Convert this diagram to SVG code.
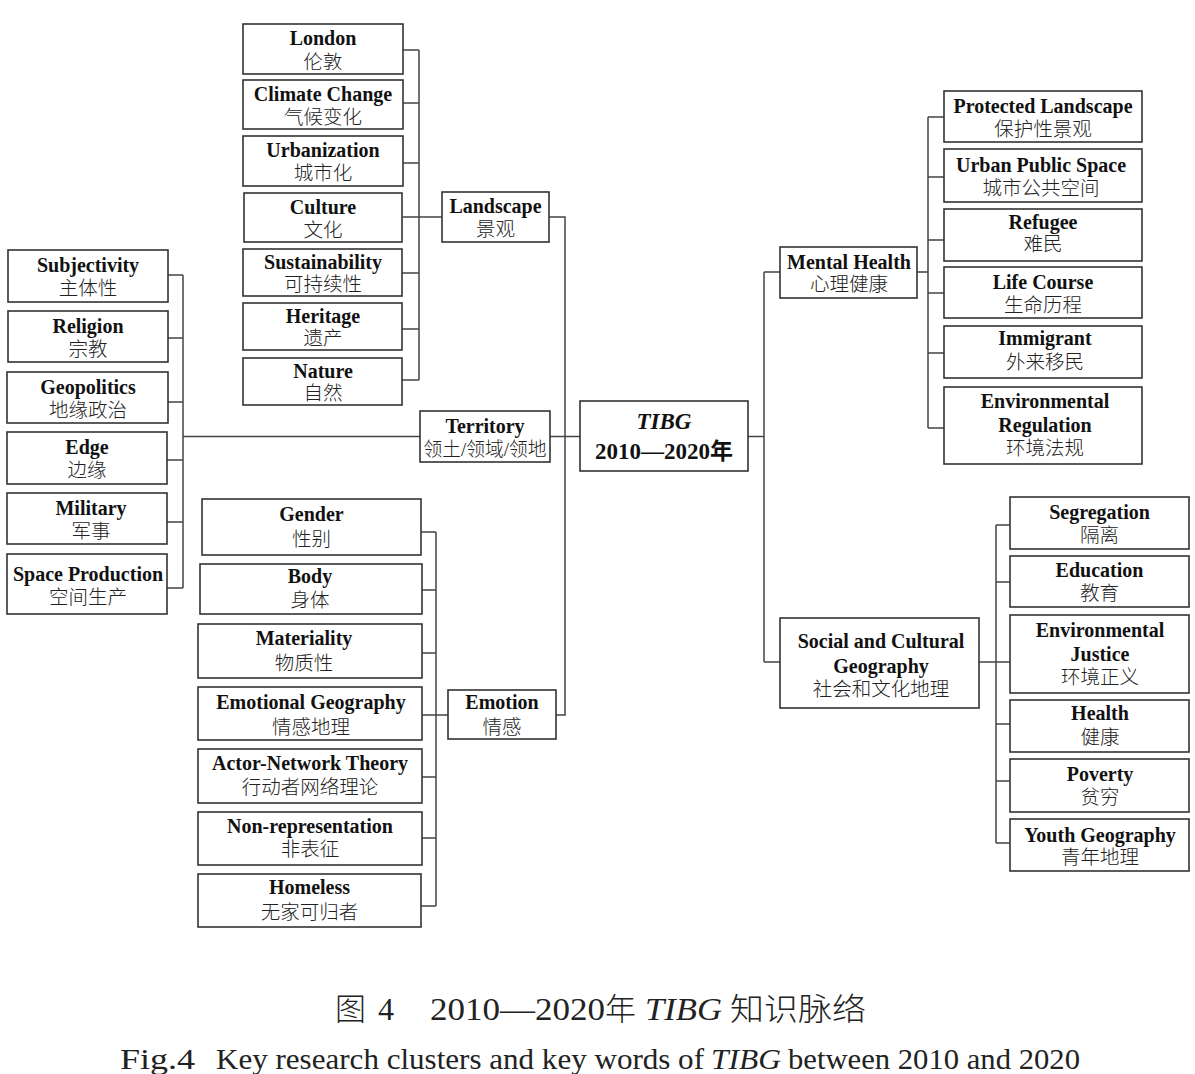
<svg xmlns="http://www.w3.org/2000/svg" width="1195" height="1074" viewBox="0 0 1195 1074">
<style>
.bg{fill:#ffffff}
.box{fill:#ffffff;stroke:#333333;stroke-width:1.6}
.en{font-family:"Liberation Serif","Times New Roman",serif;font-weight:bold;font-size:20px;fill:#111111;text-anchor:middle}
.zh{font-family:"Liberation Serif","Noto Sans CJK SC",serif;font-size:19.5px;font-weight:300;fill:#222222;text-anchor:middle}
.conn{fill:none;stroke:#444444;stroke-width:1.5}
.cap{font-family:"Liberation Serif","Noto Sans CJK SC",serif;fill:#222222}
</style>
<rect class="bg" x="0" y="0" width="1195" height="1074"/>
<g id="connectors">
<path class="conn" d="M403,50H419M403,103H419M403,163H419M403,217H442M402,273H419M402,329H419M402,380H419M419,50V380"/>
<path class="conn" d="M549,217H565V715H556"/>
<path class="conn" d="M168,275H183M168,338H183M168,402H183M167,460H183M167,522H183M167,588H183M183,275V588M183,436.5H420"/>
<path class="conn" d="M550,436.5H580M748,436.5H764M764,272V662M764,272H780M764,662H780"/>
<path class="conn" d="M421,532H436M422,590H436M422,653H436M422,715H448M422,777H436M422,838H436M421,906H436M436,532V906"/>
<path class="conn" d="M917,272H928M928,117V428M928,117H944M928,177H944M928,240H944M928,293H944M928,353H944M928,428H944"/>
<path class="conn" d="M979,662H996M996,525V843M996,525H1010M996,582H1010M996,662H1010M996,724H1010M996,781H1010M996,843H1010"/>
</g>
<g id="london"><rect class="box" x="243" y="24" width="160" height="50"/><text class="en" x="323" y="45">London</text><text class="zh" x="323" y="68.5">伦敦</text></g>
<g id="climate-change"><rect class="box" x="243" y="80" width="160" height="49"/><text class="en" x="323" y="100.5">Climate Change</text><text class="zh" x="323" y="123.5">气候变化</text></g>
<g id="urbanization"><rect class="box" x="243" y="136" width="160" height="50"/><text class="en" x="323" y="157">Urbanization</text><text class="zh" x="323" y="180">城市化</text></g>
<g id="culture"><rect class="box" x="244" y="193" width="158" height="49"/><text class="en" x="323" y="213.5">Culture</text><text class="zh" x="323" y="236.5">文化</text></g>
<g id="sustainability"><rect class="box" x="243" y="249" width="159" height="47"/><text class="en" x="323" y="268.5">Sustainability</text><text class="zh" x="323" y="290.5">可持续性</text></g>
<g id="heritage"><rect class="box" x="243" y="303" width="159" height="47"/><text class="en" x="323" y="322.5">Heritage</text><text class="zh" x="323" y="344.5">遗产</text></g>
<g id="nature"><rect class="box" x="243" y="358" width="159" height="47"/><text class="en" x="323" y="377.5">Nature</text><text class="zh" x="323" y="399.5">自然</text></g>
<g id="landscape"><rect class="box" x="442" y="192" width="107" height="50"/><text class="en" x="495.5" y="213">Landscape</text><text class="zh" x="495.5" y="236">景观</text></g>
<g id="subjectivity"><rect class="box" x="8" y="250" width="160" height="52"/><text class="en" x="88" y="272">Subjectivity</text><text class="zh" x="88" y="295">主体性</text></g>
<g id="religion"><rect class="box" x="8" y="311" width="160" height="51"/><text class="en" x="88" y="332.5">Religion</text><text class="zh" x="88" y="355.5">宗教</text></g>
<g id="geopolitics"><rect class="box" x="7" y="372" width="161" height="51"/><text class="en" x="88" y="393.5">Geopolitics</text><text class="zh" x="88" y="416.5">地缘政治</text></g>
<g id="edge"><rect class="box" x="7" y="432" width="160" height="52"/><text class="en" x="87" y="454">Edge</text><text class="zh" x="87" y="477">边缘</text></g>
<g id="military"><rect class="box" x="7" y="493" width="160" height="51"/><text class="en" x="91" y="514.5">Military</text><text class="zh" x="91" y="537.5">军事</text></g>
<g id="space-production"><rect class="box" x="7" y="554" width="160" height="60"/><text class="en" x="88" y="580.5">Space Production</text><text class="zh" x="88" y="603.5">空间生产</text></g>
<g id="territory"><rect class="box" x="420" y="411" width="130" height="51"/><text class="en" x="485" y="432.5">Territory</text><text class="zh" x="485" y="455.5" textLength="123" lengthAdjust="spacingAndGlyphs">领土/领域/领地</text></g>
<g id="gender"><rect class="box" x="202" y="499" width="219" height="56"/><text class="en" x="311.5" y="521">Gender</text><text class="zh" x="311.5" y="546">性别</text></g>
<g id="body"><rect class="box" x="200" y="564" width="222" height="50"/><text class="en" x="310" y="583">Body</text><text class="zh" x="310" y="607">身体</text></g>
<g id="materiality"><rect class="box" x="198" y="624" width="224" height="54"/><text class="en" x="304" y="645">Materiality</text><text class="zh" x="304" y="669.5">物质性</text></g>
<g id="emotional-geography"><rect class="box" x="198" y="687" width="224" height="53"/><text class="en" x="311" y="708.5">Emotional Geography</text><text class="zh" x="311" y="733.5">情感地理</text></g>
<g id="actor-network-theory"><rect class="box" x="198" y="749" width="224" height="54"/><text class="en" x="310" y="769.5">Actor-Network Theory</text><text class="zh" x="310" y="793.5">行动者网络理论</text></g>
<g id="non-representation"><rect class="box" x="198" y="812" width="224" height="53"/><text class="en" x="310" y="832.5">Non-representation</text><text class="zh" x="310" y="855.5">非表征</text></g>
<g id="homeless"><rect class="box" x="198" y="874" width="223" height="53"/><text class="en" x="309.5" y="894">Homeless</text><text class="zh" x="309.5" y="918.5">无家可归者</text></g>
<g id="emotion"><rect class="box" x="448" y="690" width="108" height="49"/><text class="en" x="502" y="708.5">Emotion</text><text class="zh" x="502" y="733.5">情感</text></g>
<g id="tibg"><rect class="box" x="580" y="401" width="168" height="70"/><text class="en" x="664" y="429" style="font-size:23px;font-style:italic">TIBG</text><text class="en" x="664" y="459" style="font-size:23px">2010—2020<tspan style="font-family:'Noto Sans CJK SC',sans-serif;font-weight:bold">年</tspan></text></g>
<g id="mental-health"><rect class="box" x="780" y="247" width="137" height="51"/><text class="en" x="849" y="268.5">Mental Health</text><text class="zh" x="849" y="290.5">心理健康</text></g>
<g id="protected-landscape"><rect class="box" x="944" y="91" width="198" height="51"/><text class="en" x="1043" y="112.5">Protected Landscape</text><text class="zh" x="1043" y="136">保护性景观</text></g>
<g id="urban-public-space"><rect class="box" x="944" y="149" width="198" height="53"/><text class="en" x="1041" y="171.5">Urban Public Space</text><text class="zh" x="1041" y="195">城市公共空间</text></g>
<g id="refugee"><rect class="box" x="944" y="209" width="198" height="52"/><text class="en" x="1043" y="228.5">Refugee</text><text class="zh" x="1043" y="251">难民</text></g>
<g id="life-course"><rect class="box" x="944" y="267" width="198" height="51"/><text class="en" x="1043" y="289">Life Course</text><text class="zh" x="1043" y="312">生命历程</text></g>
<g id="immigrant"><rect class="box" x="944" y="326" width="198" height="52"/><text class="en" x="1045" y="345">Immigrant</text><text class="zh" x="1045" y="368.5">外来移民</text></g>
<g id="environmental-regulation"><rect class="box" x="944" y="387" width="198" height="77"/><text class="en" x="1045" y="407.5">Environmental</text><text class="en" x="1045" y="432">Regulation</text><text class="zh" x="1045" y="455">环境法规</text></g>
<g id="social-cultural-geography"><rect class="box" x="780" y="618" width="199" height="90"/><text class="en" x="881" y="648">Social and Cultural</text><text class="en" x="881" y="673">Geography</text><text class="zh" x="881" y="695.5">社会和文化地理</text></g>
<g id="segregation"><rect class="box" x="1010" y="497" width="179" height="52"/><text class="en" x="1099.5" y="518.5">Segregation</text><text class="zh" x="1099.5" y="542">隔离</text></g>
<g id="education"><rect class="box" x="1010" y="556" width="179" height="51"/><text class="en" x="1099.5" y="577">Education</text><text class="zh" x="1099.5" y="600">教育</text></g>
<g id="environmental-justice"><rect class="box" x="1010" y="615" width="179" height="78"/><text class="en" x="1100" y="637">Environmental</text><text class="en" x="1100" y="661">Justice</text><text class="zh" x="1100" y="684">环境正义</text></g>
<g id="health"><rect class="box" x="1010" y="700" width="179" height="52"/><text class="en" x="1100" y="720">Health</text><text class="zh" x="1100" y="744">健康</text></g>
<g id="poverty"><rect class="box" x="1010" y="759" width="179" height="53"/><text class="en" x="1100" y="781">Poverty</text><text class="zh" x="1100" y="803.5">贫穷</text></g>
<g id="youth-geography"><rect class="box" x="1010" y="819" width="179" height="52"/><text class="en" x="1100" y="842">Youth Geography</text><text class="zh" x="1100" y="864">青年地理</text></g>
<g id="caption">
<text class="cap" x="335" y="1020" style="font-size:31px;font-family:'Noto Sans CJK SC',sans-serif;font-weight:300">图</text>
<text class="cap" x="378" y="1020" style="font-size:32px">4</text>
<text class="cap" x="430" y="1020" style="font-size:32px" textLength="175" lengthAdjust="spacingAndGlyphs">2010—2020</text>
<text class="cap" x="605" y="1020" style="font-size:31px;font-family:'Noto Sans CJK SC',sans-serif;font-weight:300">年</text>
<text class="cap" x="645" y="1020" style="font-size:32px;font-style:italic" textLength="77" lengthAdjust="spacingAndGlyphs">TIBG</text>
<text class="cap" x="730" y="1020" style="font-size:31px;font-family:'Noto Sans CJK SC',sans-serif;font-weight:300" textLength="136" lengthAdjust="spacingAndGlyphs">知识脉络</text>
<text class="cap" x="120" y="1069" style="font-size:30px" textLength="75" lengthAdjust="spacingAndGlyphs">Fig.4</text>
<text class="cap" x="216" y="1069" style="font-size:30px" textLength="488" lengthAdjust="spacingAndGlyphs">Key research clusters and key words of</text>
<text class="cap" x="711" y="1069" style="font-size:30px;font-style:italic" textLength="70" lengthAdjust="spacingAndGlyphs">TIBG</text>
<text class="cap" x="788" y="1069" style="font-size:30px" textLength="292" lengthAdjust="spacingAndGlyphs">between 2010 and 2020</text>
</g>
</svg>
